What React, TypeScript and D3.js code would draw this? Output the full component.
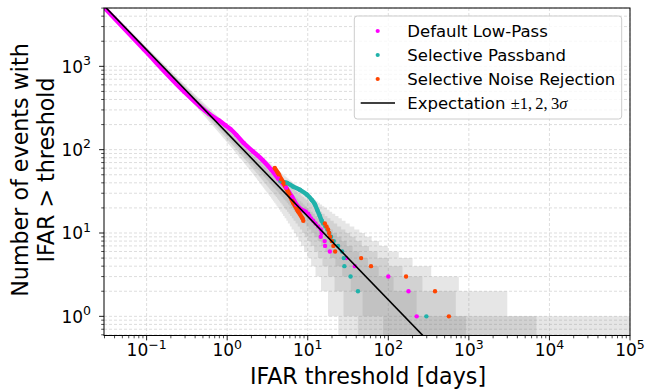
import React, { useMemo } from "react";
import * as d3 from "d3";

// ---------- data ----------
// Expected number of events above threshold: N = T / IFAR  (T in days)
const EXPECT_T = 158;

// Default Low-Pass: dense part [IFAR days, N] and sparse tail
const lowPassDense: [number, number][] = [
  [0.029, 5200], [0.092, 1600], [0.29, 500], [0.46, 330], [0.6, 268], [0.78, 226],
  [0.95, 196], [1.1, 176], [1.3, 150], [1.6, 120], [2.1, 95], [2.75, 75], [3.5, 58],
  [4.3, 45], [5.4, 35], [6.4, 27], [7.2, 22], [9.4, 18],
];
const lowPassTail: [number, number][] = [
  [10.1, 17], [10.5, 16], [11.0, 15], [11.7, 14], [12.5, 13], [13.5, 12], [14.5, 11],
  [14.9, 10], [14.5, 9], [16.2, 8], [16.4, 7], [18.8, 6], [30, 5], [38.4, 4], [100, 3],
  [178, 2], [225, 1],
];

// Selective Passband
const passbandDense: [number, number][] = [
  [4.6, 42], [5.5, 40], [6.6, 36], [8.0, 33], [9.7, 29], [11.2, 25], [12.3, 22],
  [13.1, 19], [14.1, 16], [14.9, 14],
];
const passbandTail: [number, number][] = [
  [15.5, 13], [16.5, 12], [17.5, 11], [18.5, 10], [19.5, 9], [21, 8], [23.8, 7],
  [26.7, 6], [28, 5], [28.5, 4], [34, 3], [42, 2], [297, 1],
];

// Selective Noise Rejection
const noiseRejDense: [number, number][] = [
  [3.9, 60], [4.3, 52], [4.7, 44], [5.0, 40], [5.7, 31], [6.6, 23], [7.5, 18.5], [8.6, 15],
];
const noiseRejTail: [number, number][] = [
  [8.8, 14], [16.3, 13], [17.1, 12], [17.9, 11], [18.4, 10], [18.9, 9], [19.9, 8],
  [20.8, 7], [21.9, 6], [46, 5], [61, 4], [166, 3], [380, 2], [565, 1],
];

const xTickExps = [-1, 0, 1, 2, 3, 4, 5];
const yTickExps = [0, 1, 2, 3];
const sigmaLevels = [1, 2, 3];
const legendLabels = ["Default Low-Pass", "Selective Passband", "Selective Noise Rejection"];
const seriesColors = ["#ff00ff", "#20b2aa", "#ff4500"];

// ---------- layout ----------
const W = 646, H = 390;
const L = 104, T = 8, R = 630, B = 335.5;
const X_DOM: [number, number] = [Math.pow(10, -1.529), 1e5];
const Y_DOM: [number, number] = [Math.pow(10, -0.23), Math.pow(10, 3.7)];
const FONT = "DejaVu Sans, Verdana, sans-serif";
const SERIF = "Liberation Serif, Times New Roman, serif";

// standard normal CDF values for +/- k sigma
const PHI: Record<number, [number, number]> = {
  1: [0.15865525, 0.84134475],
  2: [0.02275013, 0.97724987],
  3: [0.0013499, 0.9986501],
};

function poissonQuantiles(mu: number, qs: number[], logFact: Float64Array): number[] {
  const out: number[] = new Array(qs.length).fill(0);
  const lnmu = Math.log(mu);
  let k = Math.max(0, Math.floor(mu - 12 * Math.sqrt(mu) - 5));
  let cdf = 0;
  let qi = 0;
  while (qi < qs.length && k < logFact.length) {
    cdf += Math.exp(-mu + k * lnmu - logFact[k]);
    while (qi < qs.length && cdf >= qs[qi] - 1e-13) {
      out[qi] = k;
      qi++;
    }
    k++;
  }
  return out;
}

export default function App() {
  const x = d3.scaleLog().domain(X_DOM).range([L, R]);
  const y = d3.scaleLog().domain(Y_DOM).range([B, T]);

  const bands = useMemo(() => {
    const maxK = 9000;
    const logFact = new Float64Array(maxK);
    for (let i = 1; i < maxK; i++) logFact[i] = logFact[i - 1] + Math.log(i);
    const n = 2400;
    const lx0 = Math.log10(X_DOM[0]), lx1 = Math.log10(X_DOM[1]);
    const qs = [PHI[3][0], PHI[2][0], PHI[1][0], PHI[1][1], PHI[2][1], PHI[3][1]];
    const rows: { xv: number; q: number[] }[] = [];
    for (let i = 0; i <= n; i++) {
      const xv = Math.pow(10, lx0 + ((lx1 - lx0) * i) / n);
      const mu = EXPECT_T / xv;
      rows.push({ xv, q: poissonQuantiles(mu, qs, logFact) });
    }
    const floorV = 0.2;
    return sigmaLevels.map((s) => {
      const lo = 3 - s;
      const hi = 2 + s;
      const area = d3
        .area<{ xv: number; q: number[] }>()
        .x((d) => x(d.xv))
        .y0((d) => y(Math.max(d.q[lo], floorV)))
        .y1((d) => y(Math.max(d.q[hi], floorV)))
        .curve(d3.curveStepAfter);
      return area(rows) || "";
    });
  }, []);

  const thick = d3
    .line<[number, number]>()
    .x((d) => x(d[0]))
    .y((d) => y(d[1]))
    .curve(d3.curveMonotoneX);

  const expLine = d3
    .line<number>()
    .x((d) => x(d))
    .y((d) => y(EXPECT_T / d));

  const yGrid: number[] = [];
  for (let e = -1; e <= 3; e++) {
    for (let m = 1; m <= 9; m++) {
      const v = m * Math.pow(10, e);
      if (v >= Y_DOM[0] && v <= Y_DOM[1]) yGrid.push(v);
    }
  }
  const xMinor: number[] = [];
  for (let e = -2; e <= 4; e++) {
    for (let m = 2; m <= 9; m++) {
      const v = m * Math.pow(10, e);
      if (v >= X_DOM[0] && v <= X_DOM[1]) xMinor.push(v);
    }
  }
  const yMinor = yGrid.filter((v) => Math.abs(Math.log10(v) - Math.round(Math.log10(v))) > 1e-6);

  const dense = [lowPassDense, passbandDense, noiseRejDense];
  const tails = [lowPassTail, passbandTail, noiseRejTail];

  const sup = (e: number) => (e < 0 ? "\u2212" + Math.abs(e) : String(e));

  return (
    <svg width={W} height={H} style={{ position: "absolute", left: 0, top: 0, background: "#fff" }}>
      <defs>
        <clipPath id="plotclip">
          <rect x={L} y={T} width={R - L} height={B - T} />
        </clipPath>
      </defs>
      <rect x={0} y={0} width={W} height={H} fill="#fff" />

      {/* grid */}
      <g stroke="#d4d4d4" strokeWidth={0.8} strokeDasharray="3,2">
        {yGrid.map((v, i) => (
          <line key={"gy" + i} x1={L} x2={R} y1={y(v)} y2={y(v)} />
        ))}
        {xTickExps.map((e) => (
          <line key={"gx" + e} x1={x(Math.pow(10, e))} x2={x(Math.pow(10, e))} y1={T} y2={B} />
        ))}
      </g>

      <g clipPath="url(#plotclip)">
        {bands.map((p, i) => (
          <path key={"band" + i} d={p} fill="#808080" fillOpacity={0.2} stroke="none" />
        ))}

        {dense.map((pts, i) => (
          <path
            key={"dense" + i}
            d={thick(pts) || ""}
            fill="none"
            stroke={seriesColors[i]}
            strokeWidth={4.4}
            strokeLinecap="round"
            strokeLinejoin="round"
          />
        ))}
        {dense.map((pts, i) =>
          pts.map((d, j) => (
            <circle key={"dd" + i + "-" + j} cx={x(d[0])} cy={y(d[1])} r={2.2} fill={seriesColors[i]} />
          ))
        )}
        {tails.map((pts, i) =>
          pts.map((d, j) => (
            <circle key={"t" + i + "-" + j} cx={x(d[0])} cy={y(d[1])} r={2.2} fill={seriesColors[i]} />
          ))
        )}

        <path d={expLine([X_DOM[0], X_DOM[1]]) || ""} fill="none" stroke="#000" strokeWidth={1.6} />
      </g>

      <rect x={L} y={T} width={R - L} height={B - T} fill="none" stroke="#000" strokeWidth={1} />

      <g stroke="#000" strokeWidth={0.9}>
        {xTickExps.map((e) => (
          <line key={"xt" + e} x1={x(Math.pow(10, e))} x2={x(Math.pow(10, e))} y1={B} y2={B + 4.9} />
        ))}
        {xMinor.map((v, i) => (
          <line key={"xm" + i} x1={x(v)} x2={x(v)} y1={B} y2={B + 2.8} strokeWidth={0.7} />
        ))}
        {yTickExps.map((e) => (
          <line key={"yt" + e} x1={L - 4.9} x2={L} y1={y(Math.pow(10, e))} y2={y(Math.pow(10, e))} />
        ))}
        {yMinor.map((v, i) => (
          <line key={"ym" + i} x1={L - 2.8} x2={L} y1={y(v)} y2={y(v)} strokeWidth={0.7} />
        ))}
      </g>

      <g fontFamily={FONT} fontSize={17} fill="#000">
        {xTickExps.map((e) => (
          <text key={"xl" + e} x={x(Math.pow(10, e))} y={B + 20.5} textAnchor="middle">
            <tspan>10</tspan>
            <tspan dy={-7.5} fontSize={12.5}>
              {sup(e)}
            </tspan>
          </text>
        ))}
        {yTickExps.map((e) => (
          <text key={"yl" + e} x={91} y={y(Math.pow(10, e)) + 6.2} textAnchor="end">
            <tspan>10</tspan>
            <tspan dy={-7.5} fontSize={12.5}>
              {sup(e)}
            </tspan>
          </text>
        ))}
      </g>

      <text x={(L + R) / 2 + 1} y={384} textAnchor="middle" fontFamily={FONT} fontSize={22.2}>
        IFAR threshold [days]
      </text>
      <g transform="translate(0,170) rotate(-90)" fontFamily={FONT} fontSize={22.2}>
        <text x={0} y={28} textAnchor="middle">
          Number of events with
        </text>
        <text x={0} y={53.5} textAnchor="middle">
          IFAR &gt; threshold
        </text>
      </g>

      <g>
        <rect x={354.3} y={16} width={267.4} height={103} rx={3} fill="#fff" fillOpacity={0.8} stroke="#cccccc" strokeWidth={1} />
        {legendLabels.map((lab, i) => (
          <g key={"lg" + i}>
            <circle cx={377.7} cy={31 + 24 * i} r={2.1} fill={seriesColors[i]} />
            <text x={407.3} y={31 + 24 * i + 5.8} fontFamily={FONT} fontSize={16.5}>
              {lab}
            </text>
          </g>
        ))}
        <line x1={360.7} x2={395} y1={103} y2={103} stroke="#000" strokeWidth={1.6} />
        <text x={407.3} y={108.8} fontFamily={FONT} fontSize={16.5}>
          <tspan>Expectation </tspan>
          <tspan fontFamily={SERIF} fontSize={16.5}>
            {"\u00b11,\u20092,\u20093"}
          </tspan>
          <tspan fontFamily={SERIF} fontStyle="italic" fontSize={16.5}>
            σ
          </tspan>
        </text>
      </g>
    </svg>
  );
}
